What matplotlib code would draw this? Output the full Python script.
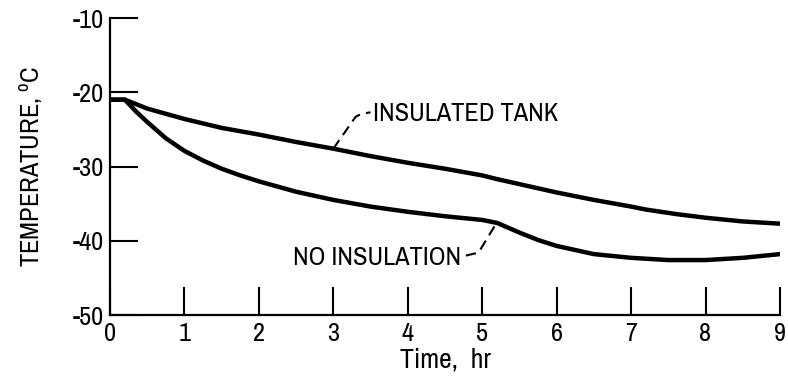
import matplotlib
matplotlib.use('Agg')
import matplotlib.pyplot as plt

# curve readings (hours, deg C)
hours_ins = [0.0, 0.2, 0.5, 1.0, 1.5, 2.0, 2.5, 3.0, 3.5, 4.0, 4.5, 5.0, 5.2, 5.6, 6.0, 6.5, 7.0, 7.2, 7.6, 8.0, 8.5, 9.0]
temp_ins = [-21.0, -21.0, -22.2, -23.6, -24.8, -25.7, -26.7, -27.6, -28.6, -29.5, -30.3, -31.2, -31.7, -32.6, -33.5, -34.5, -35.4, -35.8, -36.4, -36.9, -37.4, -37.7]

hours_bare = [0.0, 0.2, 0.35, 0.5, 0.75, 1.0, 1.25, 1.5, 1.75, 2.0, 2.5, 3.0, 3.5, 4.0, 4.5, 5.0, 5.2, 5.5, 5.75, 6.0, 6.5, 7.0, 7.5, 8.0, 8.5, 9.0]
temp_bare = [-21.0, -21.0, -22.6, -24.0, -26.2, -27.9, -29.2, -30.3, -31.2, -32.0, -33.4, -34.5, -35.4, -36.1, -36.7, -37.2, -37.6, -38.9, -39.9, -40.7, -41.8, -42.3, -42.6, -42.6, -42.3, -41.8]

x_ticks = [0, 1, 2, 3, 4, 5, 6, 7, 8, 9]
y_ticks = [-50, -40, -30, -20, -10]

plt.rcParams['font.family'] = ['Archivo Narrow', 'DejaVu Sans']
plt.rcParams['axes.unicode_minus'] = False

fig = plt.figure(figsize=(7.88, 3.77), dpi=100)
ax = fig.add_axes([110 / 788, 62 / 377, 670 / 788, 297 / 377])

ax.plot(hours_ins, temp_ins, color='black', lw=3.2, solid_joinstyle='round')
ax.plot(hours_bare, temp_bare, color='black', lw=3.2, solid_joinstyle='round')

ax.set_xlim(0, 9)
ax.set_ylim(-50, -10)
ax.set_xticks(x_ticks)
ax.set_yticks(y_ticks)
ax.spines['top'].set_visible(False)
ax.spines['right'].set_visible(False)
for s in ['left', 'bottom']:
    ax.spines[s].set_linewidth(1.6)
ax.tick_params(direction='in', length=20, width=1.5, labelsize=19)
ax.tick_params(axis='y', pad=4)
ax.tick_params(axis='x', pad=5)

ax.set_xlabel('Time,  hr', fontsize=20, labelpad=2)
ax.set_ylabel('TEMPERATURE, $^\\mathregular{o}$C', fontsize=19, labelpad=20)

# labels with dashed leaders
ax.text(3.53, -22.9, 'INSULATED TANK', fontsize=19, va='center', ha='left')
ax.plot([3.0, 3.3, 3.38, 3.5], [-27.6, -23.3, -22.9, -22.7], color='black', lw=1.5, ls=(0, (5, 3)))

ax.text(4.72, -42.2, 'NO INSULATION', fontsize=19, va='center', ha='right')
ax.plot([4.78, 4.95, 5.18], [-42.0, -41.6, -37.8], color='black', lw=1.5, ls=(0, (5, 3)))

fig.savefig('out.png', dpi=100)
